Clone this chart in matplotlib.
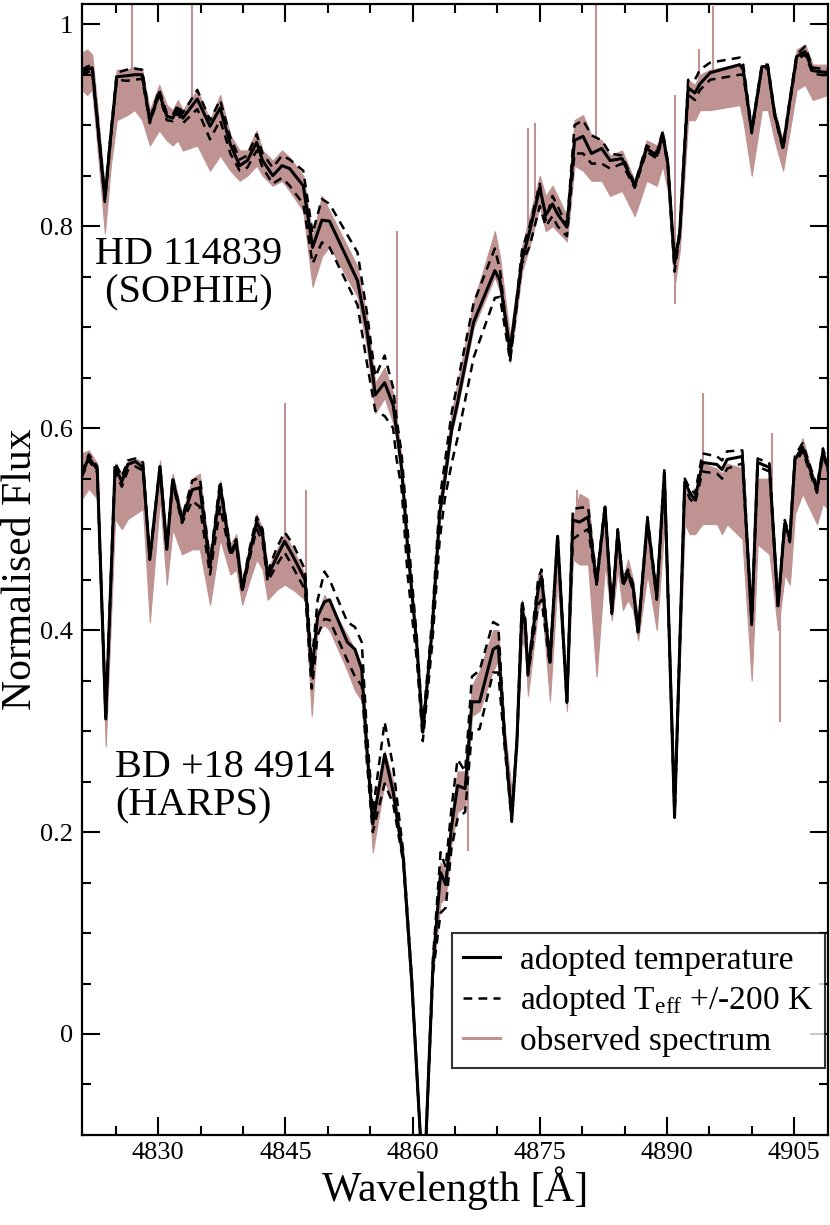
import matplotlib
matplotlib.use('Agg')
import matplotlib.pyplot as plt
from matplotlib.lines import Line2D
from matplotlib.ticker import MultipleLocator, FuncFormatter

plt.rcParams['font.family'] = ['Liberation Serif', 'DejaVu Serif']
plt.rcParams['mathtext.fontset'] = 'custom'
plt.rcParams['mathtext.rm'] = 'Liberation Serif'
plt.rcParams['mathtext.it'] = 'Liberation Serif:italic'

# ---------------- HD 114839 (SOPHIE) ----------------
hd_wl = [4821.0, 4821.6, 4822.2, 4822.8, 4823.7, 4824.4, 4825.1, 4826.3, 4827.2, 4828.1,
         4829.0, 4830.1, 4831.0, 4831.7, 4832.3, 4832.9, 4834.6, 4836.1, 4837.3, 4838.5,
         4839.6, 4840.5, 4841.6, 4842.3, 4843.5, 4844.6, 4845.5, 4847.1, 4848.2, 4849.3,
         4850.2, 4853.5, 4854.6, 4855.6, 4856.7, 4857.7, 4858.1, 4858.7, 4859.4, 4860.5,
         4861.2, 4862.3, 4863.2, 4863.8, 4864.6, 4865.3, 4867.2, 4869.7, 4870.3, 4871.5,
         4872.9, 4873.8, 4875.0, 4875.7, 4876.5, 4877.1, 4878.2, 4879.1, 4880.1, 4881.1,
         4882.3, 4883.3, 4884.7, 4886.2, 4887.6, 4888.8, 4889.5, 4890.1, 4890.9, 4891.5,
         4892.5, 4893.3, 4893.9, 4895.1, 4898.6, 4899.0, 4900.0, 4901.2, 4901.9, 4902.7,
         4903.7, 4904.5, 4905.3, 4906.3, 4907.2, 4909.0]
hd_model = [0.952, 0.955, 0.957, 0.905, 0.827, 0.890, 0.948, 0.949, 0.950, 0.950,
            0.904, 0.932, 0.909, 0.907, 0.917, 0.907, 0.926, 0.899, 0.917, 0.881,
            0.860, 0.865, 0.883, 0.865, 0.850, 0.860, 0.857, 0.840, 0.779, 0.806,
            0.805, 0.746, 0.697, 0.633, 0.645, 0.623, 0.598, 0.560, 0.483, 0.384,
            0.299, 0.401, 0.516, 0.549, 0.598, 0.625, 0.705, 0.756, 0.746, 0.677,
            0.766, 0.795, 0.838, 0.811, 0.822, 0.812, 0.799, 0.885, 0.889, 0.872,
            0.877, 0.865, 0.867, 0.840, 0.877, 0.870, 0.891, 0.862, 0.763, 0.793,
            0.937, 0.932, 0.941, 0.952, 0.960, 0.955, 0.894, 0.958, 0.958, 0.911,
            0.878, 0.924, 0.968, 0.973, 0.954, 0.952]
hd_dash_hi = [0.955, 0.958, 0.960, 0.908, 0.830, 0.893, 0.952, 0.955, 0.956, 0.955,
              0.906, 0.935, 0.912, 0.910, 0.920, 0.912, 0.935, 0.905, 0.925, 0.888,
              0.866, 0.870, 0.891, 0.872, 0.858, 0.870, 0.866, 0.855, 0.793, 0.827,
              0.822, 0.774, 0.715, 0.651, 0.672, 0.640, 0.610, 0.575, 0.500, 0.392,
              0.305, 0.410, 0.530, 0.566, 0.615, 0.645, 0.724, 0.778, 0.757, 0.667,
              0.776, 0.800, 0.842, 0.806, 0.830, 0.820, 0.800, 0.900, 0.905, 0.890,
              0.885, 0.872, 0.870, 0.842, 0.880, 0.873, 0.894, 0.865, 0.765, 0.795,
              0.945, 0.945, 0.955, 0.962, 0.967, 0.960, 0.896, 0.960, 0.960, 0.913,
              0.880, 0.926, 0.970, 0.978, 0.957, 0.955]
hd_dash_lo = [0.950, 0.952, 0.954, 0.902, 0.824, 0.887, 0.945, 0.944, 0.945, 0.946,
              0.902, 0.930, 0.905, 0.904, 0.912, 0.902, 0.916, 0.886, 0.905, 0.872,
              0.855, 0.858, 0.875, 0.858, 0.842, 0.848, 0.840, 0.822, 0.763, 0.784,
              0.779, 0.722, 0.665, 0.617, 0.612, 0.600, 0.570, 0.540, 0.455, 0.370,
              0.290, 0.385, 0.490, 0.530, 0.565, 0.590, 0.670, 0.729, 0.730, 0.667,
              0.763, 0.780, 0.820, 0.800, 0.810, 0.800, 0.790, 0.872, 0.872, 0.862,
              0.862, 0.857, 0.862, 0.838, 0.874, 0.867, 0.888, 0.860, 0.755, 0.790,
              0.930, 0.925, 0.935, 0.945, 0.950, 0.950, 0.892, 0.956, 0.956, 0.909,
              0.876, 0.922, 0.965, 0.970, 0.951, 0.949]
hd_obs_lo = [0.935, 0.930, 0.935, 0.880, 0.793, 0.860, 0.905, 0.910, 0.915, 0.905,
             0.880, 0.895, 0.885, 0.880, 0.885, 0.875, 0.880, 0.855, 0.870, 0.855,
             0.845, 0.850, 0.860, 0.850, 0.840, 0.845, 0.835, 0.815, 0.740, 0.770,
             0.780, 0.730, 0.680, 0.615, 0.630, 0.605, 0.590, 0.550, 0.475, 0.378,
             0.295, 0.395, 0.510, 0.545, 0.595, 0.620, 0.700, 0.750, 0.735, 0.665,
             0.755, 0.780, 0.820, 0.795, 0.800, 0.795, 0.785, 0.860, 0.855, 0.845,
             0.845, 0.830, 0.835, 0.810, 0.845, 0.840, 0.860, 0.835, 0.740, 0.775,
             0.905, 0.905, 0.915, 0.915, 0.920, 0.905, 0.850, 0.915, 0.915, 0.885,
             0.855, 0.895, 0.935, 0.940, 0.925, 0.930]
hd_obs_hi = [0.972, 0.975, 0.970, 0.920, 0.835, 0.900, 0.955, 0.955, 0.958, 0.955,
             0.915, 0.940, 0.920, 0.915, 0.925, 0.915, 0.935, 0.905, 0.930, 0.890,
             0.875, 0.875, 0.895, 0.875, 0.865, 0.875, 0.868, 0.850, 0.790, 0.830,
             0.815, 0.760, 0.710, 0.645, 0.660, 0.635, 0.610, 0.570, 0.490, 0.390,
             0.305, 0.410, 0.530, 0.565, 0.615, 0.645, 0.725, 0.795, 0.770, 0.690,
             0.780, 0.810, 0.850, 0.830, 0.840, 0.830, 0.810, 0.905, 0.910, 0.890,
             0.885, 0.870, 0.875, 0.845, 0.885, 0.880, 0.895, 0.865, 0.770, 0.800,
             0.945, 0.940, 0.950, 0.955, 0.960, 0.955, 0.890, 0.960, 0.955, 0.915,
             0.885, 0.930, 0.975, 0.980, 0.960, 0.960]
hd_spike_wl = [4826.9, 4834.0, 4858.1, 4873.6, 4874.4, 4881.6, 4890.9, 4893.8, 4895.4]
hd_spike_lo = [0.930, 0.900, 0.590, 0.790, 0.820, 0.860, 0.723, 0.930, 0.930]
hd_spike_hi = [1.050, 1.050, 0.795, 0.897, 0.902, 1.050, 0.930, 0.975, 1.018]

# ---------------- BD +18 4914 (HARPS) ----------------
bd_wl = [4821.0, 4821.8, 4822.8, 4823.8, 4824.9, 4825.7, 4826.4, 4827.3, 4828.2, 4829.0,
         4830.2, 4831.0, 4831.7, 4832.8, 4834.0, 4834.9, 4836.1, 4837.3, 4838.5, 4839.2,
         4839.9, 4840.8, 4841.6, 4842.3, 4842.9, 4844.0, 4844.9, 4845.9, 4847.3, 4848.1,
         4848.8, 4849.6, 4850.2, 4852.3, 4853.2, 4854.0, 4854.6, 4855.3, 4856.7, 4857.7,
         4858.9, 4859.9, 4861.3, 4862.4, 4863.3, 4863.9, 4864.6, 4865.3, 4866.2, 4867.0,
         4867.9, 4869.5, 4870.1, 4870.9, 4871.7, 4872.3, 4872.9, 4873.3, 4873.6, 4874.8,
         4875.2, 4876.2, 4877.1, 4878.2, 4878.9, 4879.7, 4880.7, 4881.7, 4882.7, 4883.5,
         4884.2, 4884.8, 4885.4, 4886.0, 4886.6, 4887.7, 4888.8, 4889.7, 4890.9, 4892.1,
         4892.7, 4893.3, 4894.2, 4895.9, 4896.5, 4897.1, 4898.9, 4900.0, 4900.7, 4902.1,
         4903.1, 4903.9, 4904.5, 4905.1, 4906.0, 4907.7, 4908.4, 4909.0]
bd_model = [0.554, 0.571, 0.559, 0.312, 0.561, 0.547, 0.564, 0.567, 0.561, 0.470,
            0.562, 0.480, 0.549, 0.509, 0.539, 0.541, 0.463, 0.542, 0.477, 0.487,
            0.440, 0.477, 0.507, 0.495, 0.453, 0.473, 0.488, 0.473, 0.450, 0.358,
            0.414, 0.428, 0.430, 0.388, 0.381, 0.361, 0.282, 0.208, 0.277, 0.240,
            0.174, 0.052, -0.160, 0.068, 0.160, 0.148, 0.206, 0.246, 0.243, 0.329,
            0.329, 0.381, 0.384, 0.289, 0.213, 0.289, 0.421, 0.404, 0.358, 0.440,
            0.453, 0.368, 0.493, 0.329, 0.509, 0.507, 0.512, 0.447, 0.522, 0.418,
            0.497, 0.447, 0.457, 0.443, 0.398, 0.509, 0.433, 0.556, 0.216, 0.547,
            0.536, 0.529, 0.566, 0.564, 0.559, 0.569, 0.572, 0.408, 0.566, 0.561,
            0.424, 0.506, 0.490, 0.569, 0.581, 0.539, 0.577, 0.560]
bd_dash_hi = [0.556, 0.574, 0.562, 0.315, 0.566, 0.552, 0.568, 0.570, 0.566, 0.472,
              0.564, 0.482, 0.551, 0.511, 0.548, 0.551, 0.468, 0.548, 0.480, 0.490,
              0.442, 0.482, 0.512, 0.500, 0.458, 0.482, 0.497, 0.485, 0.460, 0.368,
              0.430, 0.458, 0.450, 0.408, 0.403, 0.388, 0.300, 0.220, 0.309, 0.265,
              0.180, 0.055, -0.160, 0.075, 0.180, 0.165, 0.225, 0.272, 0.260, 0.354,
              0.360, 0.408, 0.405, 0.290, 0.215, 0.290, 0.430, 0.410, 0.360, 0.450,
              0.460, 0.370, 0.495, 0.330, 0.520, 0.521, 0.522, 0.450, 0.525, 0.420,
              0.500, 0.450, 0.460, 0.446, 0.400, 0.512, 0.436, 0.560, 0.218, 0.550,
              0.540, 0.535, 0.575, 0.572, 0.568, 0.577, 0.578, 0.410, 0.570, 0.565,
              0.426, 0.509, 0.493, 0.573, 0.585, 0.542, 0.580, 0.563]
bd_dash_lo = [0.552, 0.568, 0.556, 0.310, 0.556, 0.542, 0.558, 0.562, 0.558, 0.470,
              0.560, 0.480, 0.545, 0.506, 0.528, 0.522, 0.455, 0.522, 0.474, 0.484,
              0.438, 0.472, 0.500, 0.488, 0.448, 0.465, 0.477, 0.462, 0.440, 0.342,
              0.395, 0.411, 0.410, 0.370, 0.354, 0.345, 0.270, 0.200, 0.248, 0.228,
              0.170, 0.050, -0.160, 0.060, 0.120, 0.125, 0.185, 0.213, 0.220, 0.300,
              0.302, 0.358, 0.358, 0.280, 0.210, 0.285, 0.415, 0.400, 0.355, 0.425,
              0.430, 0.365, 0.490, 0.328, 0.490, 0.495, 0.500, 0.445, 0.520, 0.416,
              0.495, 0.444, 0.454, 0.440, 0.396, 0.506, 0.430, 0.552, 0.214, 0.543,
              0.530, 0.525, 0.557, 0.555, 0.550, 0.560, 0.565, 0.405, 0.562, 0.557,
              0.422, 0.503, 0.487, 0.565, 0.577, 0.536, 0.574, 0.557]
bd_obs_lo = [0.530, 0.540, 0.530, 0.285, 0.510, 0.500, 0.510, 0.515, 0.520, 0.408,
             0.530, 0.445, 0.500, 0.475, 0.480, 0.480, 0.425, 0.490, 0.455, 0.460,
             0.425, 0.450, 0.470, 0.460, 0.430, 0.440, 0.445, 0.440, 0.430, 0.315,
             0.400, 0.405, 0.400, 0.360, 0.340, 0.330, 0.270, 0.180, 0.250, 0.230,
             0.165, 0.048, -0.160, 0.060, 0.130, 0.135, 0.190, 0.220, 0.225, 0.315,
             0.320, 0.360, 0.370, 0.280, 0.225, 0.290, 0.390, 0.380, 0.335, 0.420,
             0.430, 0.330, 0.450, 0.320, 0.470, 0.465, 0.465, 0.354, 0.465, 0.410,
             0.460, 0.420, 0.430, 0.420, 0.390, 0.455, 0.400, 0.505, 0.220, 0.505,
             0.495, 0.495, 0.505, 0.505, 0.495, 0.505, 0.490, 0.350, 0.485, 0.475,
             0.400, 0.455, 0.445, 0.515, 0.535, 0.505, 0.525, 0.520]
bd_obs_hi = [0.575, 0.578, 0.565, 0.320, 0.565, 0.555, 0.568, 0.570, 0.566, 0.475,
             0.568, 0.490, 0.555, 0.515, 0.550, 0.555, 0.470, 0.548, 0.485, 0.495,
             0.450, 0.485, 0.515, 0.500, 0.460, 0.480, 0.495, 0.480, 0.455, 0.360,
             0.415, 0.435, 0.425, 0.395, 0.380, 0.365, 0.290, 0.215, 0.280, 0.250,
             0.180, 0.058, -0.160, 0.075, 0.170, 0.160, 0.215, 0.260, 0.260, 0.345,
             0.360, 0.400, 0.400, 0.300, 0.240, 0.310, 0.430, 0.410, 0.360, 0.455,
             0.460, 0.370, 0.490, 0.335, 0.510, 0.535, 0.530, 0.450, 0.520, 0.430,
             0.500, 0.450, 0.470, 0.450, 0.410, 0.500, 0.440, 0.545, 0.240, 0.540,
             0.535, 0.530, 0.565, 0.560, 0.555, 0.565, 0.560, 0.410, 0.550, 0.550,
             0.430, 0.500, 0.490, 0.570, 0.590, 0.540, 0.575, 0.565]
bd_spike_wl = [4844.9, 4847.4, 4866.5, 4879.4, 4894.2, 4902.4, 4903.3]
bd_spike_lo = [0.470, 0.440, 0.181, 0.500, 0.540, 0.540, 0.309]
bd_spike_hi = [0.625, 0.539, 0.256, 0.539, 0.635, 0.595, 0.420]

obs_color = '#c09393'

fig = plt.figure(figsize=(8.3, 12.25), dpi=100)
ax = fig.add_axes([0.0988, 0.0735, 0.8988, 0.9232])

for wl, lo, hi, swl, slo, shi in [(hd_wl, hd_obs_lo, hd_obs_hi, hd_spike_wl, hd_spike_lo, hd_spike_hi),
                                  (bd_wl, bd_obs_lo, bd_obs_hi, bd_spike_wl, bd_spike_lo, bd_spike_hi)]:
    ax.fill_between(wl, lo, hi, color=obs_color, lw=0.8, zorder=1)
    ax.vlines(swl, slo, shi, color=obs_color, lw=1.5, zorder=1)

for wl, m, dh, dl in [(hd_wl, hd_model, hd_dash_hi, hd_dash_lo),
                      (bd_wl, bd_model, bd_dash_hi, bd_dash_lo)]:
    ax.plot(wl, dh, color='black', lw=1.8, ls=(0, (3.5, 2.5)), zorder=2)
    ax.plot(wl, dl, color='black', lw=1.8, ls=(0, (3.5, 2.5)), zorder=2)
    ax.plot(wl, m, color='black', lw=2.2, zorder=3)

ax.set_xlim(4821, 4909)
ax.set_ylim(-0.1, 1.02)
ax.xaxis.set_major_locator(MultipleLocator(15))
ax.xaxis.set_minor_locator(MultipleLocator(5))
ax.yaxis.set_major_locator(MultipleLocator(0.2))
ax.yaxis.set_minor_locator(MultipleLocator(0.05))
ax.yaxis.set_major_formatter(FuncFormatter(lambda v, p: f'{v:.1f}'.rstrip('0').rstrip('.') if abs(v) > 1e-9 else '0'))
ax.tick_params(which='both', direction='in', top=True, right=True, width=1.5)
ax.tick_params(which='major', length=13, labelsize=19)
ax.tick_params(axis='x', which='major', pad=5)
ax.tick_params(axis='y', which='major', pad=6.5)
ax.tick_params(which='minor', length=6.5)
for s in ax.spines.values():
    s.set_linewidth(1.6)

ax.set_xlabel('Wavelength [Å]', fontsize=30, labelpad=2)
ax.set_ylabel('Normalised Flux', fontsize=30)
ax.yaxis.set_label_coords(-0.056, 0.5)

ax.text(4822.5, 0.790, 'HD 114839\n (SOPHIE)', fontsize=29, va='top', linespacing=1.03)
ax.text(4824.9, 0.282, 'BD +18 4914\n(HARPS)', fontsize=29, va='top', linespacing=1.03)

handles = [Line2D([], [], color='black', lw=2.2),
           Line2D([], [], color='black', lw=1.8, ls=(0, (3.5, 2.5))),
           Line2D([], [], color=obs_color, lw=2.2)]
labels = ['adopted temperature', r'adopted T$_{\rm eff}$ +/-200 K', 'observed spectrum']
leg = ax.legend(handles, labels, loc='lower right', bbox_to_anchor=(0.996, 0.059),
                fontsize=24, frameon=True, fancybox=False, edgecolor='black',
                handlelength=1.1, handletextpad=0.6, labelspacing=0.22,
                borderpad=0.35, borderaxespad=0)
leg.get_frame().set_linewidth(1.5)

fig.savefig('out.png', dpi=100)
